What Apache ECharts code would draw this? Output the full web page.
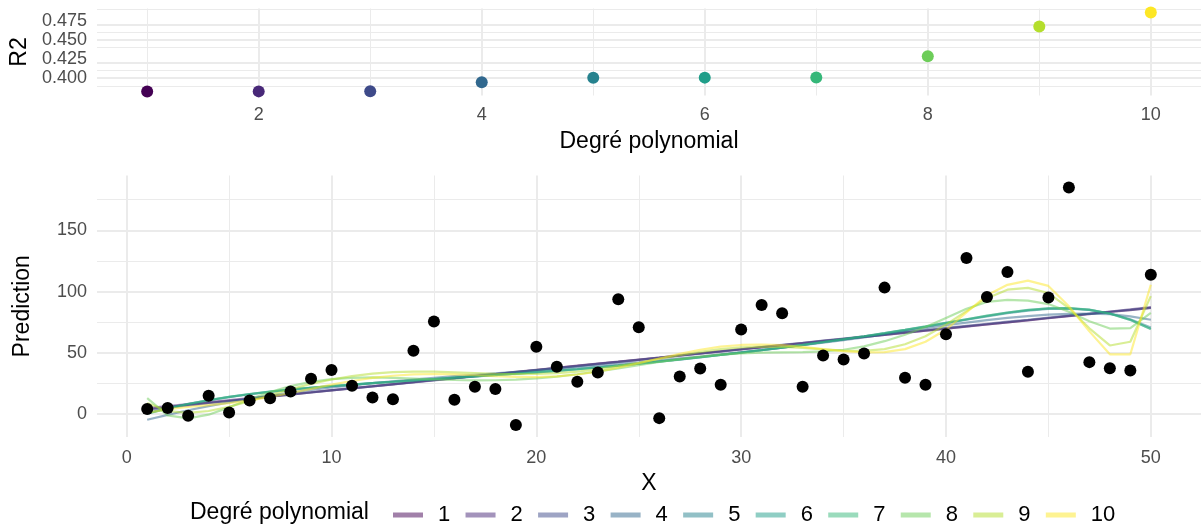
<!DOCTYPE html>
<html><head><meta charset="utf-8">
<script src="https://cdn.jsdelivr.net/npm/echarts@6/dist/echarts.min.js"></script>
<style>html,body{margin:0;padding:0;background:#fff}#c{width:1201px;height:526px}</style>
</head><body><div id="c"></div>
<script>
// ---------- data ----------
const degrees = [1, 2, 3, 4, 5, 6, 7, 8, 9, 10];
const r2 = [0.3825, 0.3827, 0.3830, 0.3948, 0.4005, 0.4007, 0.4008, 0.4287, 0.4677, 0.4860];

const xValues = [1,2,3,4,5,6,7,8,9,10,11,12,13,14,15,16,17,18,19,20,21,22,23,24,25,26,27,28,29,30,31,32,33,34,35,36,37,38,39,40,41,42,43,44,45,46,47,48,49,50];
const observed = [4.1,4.9,-1.4,14.9,1.3,11.1,13.0,18.4,28.8,35.9,23.1,13.5,12.2,51.6,75.5,11.7,22.3,20.4,-9.0,54.9,38.6,26.3,33.9,93.7,70.9,-3.3,30.7,37.2,23.9,69.0,89.1,82.3,22.3,47.8,44.5,49.4,103.2,29.6,23.9,65.2,127.4,95.6,116.0,34.5,95.1,185.0,42.4,37.5,35.5,113.8];

const pred1 = [4.1,5.8,7.5,9.2,10.9,12.5,14.2,15.9,17.6,19.3,21.0,22.6,24.3,26.0,27.7,29.4,31.1,32.7,34.4,36.1,37.8,39.5,41.2,42.8,44.5,46.2,47.9,49.6,51.3,52.9,54.6,56.3,58.0,59.7,61.4,63.0,64.7,66.4,68.1,69.8,71.5,73.2,74.8,76.5,78.2,79.9,81.6,83.3,84.9,86.6];
const pred2 = [4.9,6.5,8.2,9.8,11.4,13.0,14.6,16.3,17.9,19.6,21.2,22.8,24.5,26.1,27.8,29.4,31.1,32.7,34.3,36.0,37.7,39.3,41.0,42.6,44.3,45.9,47.6,49.3,51.0,52.7,54.4,56.1,57.8,59.5,61.2,62.9,64.6,66.3,68.0,69.7,71.4,73.1,74.9,76.6,78.4,80.1,81.9,83.7,85.5,87.3];
const pred3 = [3.2,5.2,7.1,8.9,10.7,12.5,14.2,15.9,17.6,19.3,20.9,22.6,24.2,25.9,27.5,29.2,30.8,32.5,34.1,35.8,37.5,39.2,40.9,42.6,44.3,46.0,47.8,49.5,51.2,53.0,54.7,56.5,58.2,60.0,61.7,63.4,65.2,66.9,68.6,70.3,72.0,73.7,75.4,77.0,78.7,80.3,81.9,83.5,85.0,86.6];
const pred4 = [-4.6,-0.6,3.1,6.5,9.6,12.5,15.1,17.5,19.7,21.7,23.5,25.2,26.8,28.2,29.6,30.9,32.1,33.3,34.5,35.7,36.9,38.2,39.5,40.9,42.3,43.8,45.4,47.0,48.7,50.5,52.3,54.2,56.2,58.2,60.3,62.5,65.1,67.8,70.2,72.5,74.7,76.7,78.5,80.0,81.1,81.8,82.0,81.5,79.8,77.0];
const pred5 = [0.8,4.8,8.3,11.3,13.9,16.2,18.2,19.9,21.4,22.8,24.0,25.2,26.3,27.4,28.5,29.6,30.7,31.8,32.9,34.1,35.3,36.6,38.0,39.5,41.1,42.8,44.5,46.3,48.2,50.1,52.1,54.2,56.4,58.6,60.9,63.3,65.8,68.5,71.3,74.1,77.0,79.8,82.4,84.5,85.8,86.1,85.0,82.1,77.4,70.6];
const pred6 = [0.5,4.6,8.2,11.3,14.0,16.3,18.3,20.0,21.5,22.9,24.1,25.3,26.4,27.5,28.6,29.7,30.8,31.9,33.0,34.2,35.4,36.7,38.1,39.6,41.2,42.9,44.6,46.4,48.3,50.2,52.2,54.3,56.5,58.7,61.0,63.4,66.0,68.7,71.5,74.4,77.3,80.2,82.8,84.9,86.2,86.4,85.1,82.0,76.8,69.5];
const pred7 = [0.3,4.5,8.2,11.4,14.1,16.4,18.4,20.1,21.6,22.9,24.1,25.3,26.4,27.5,28.6,29.7,30.7,31.8,32.9,34.1,35.3,36.6,38.0,39.5,41.1,42.8,44.6,46.4,48.3,50.2,52.2,54.3,56.5,58.8,61.1,63.5,66.1,68.8,71.6,74.5,77.4,80.3,82.9,85.0,86.3,86.5,85.2,82.1,76.9,69.4];
const pred8 = [13.0,-1.0,-3.5,-0.5,5.5,12.0,18.0,22.8,26.3,28.5,29.6,29.9,29.6,29.0,28.3,27.8,27.5,27.6,28.1,29.1,30.6,32.5,34.8,37.3,39.9,42.5,44.9,46.9,48.5,49.5,50.1,50.4,50.6,51.1,52.5,55.3,59.5,64.8,71.0,78.5,86.0,91.5,93.2,92.6,89.8,83.5,75.8,69.8,70.2,82.6];
const pred9 = [9.0,2.5,1.0,2.5,6.0,10.5,15.5,20.3,24.6,28.2,31.0,33.0,34.2,34.7,34.6,34.1,33.5,32.9,32.6,32.7,33.4,34.7,36.6,39.1,41.9,45.0,48.0,50.8,53.0,54.5,55.1,54.9,54.0,52.8,51.8,51.6,53.0,57.0,63.5,73.0,84.0,94.5,101.5,103.0,98.8,86.5,70.0,56.0,59.0,96.3];
const pred10 = [1.0,4.0,5.8,7.3,9.0,11.2,14.0,17.2,20.6,24.0,27.0,29.5,31.3,32.4,32.7,32.4,31.7,30.9,30.3,30.2,30.8,32.3,34.6,37.8,41.5,45.4,49.2,52.5,55.0,56.4,56.8,56.2,54.8,53.0,51.3,50.3,50.5,53.0,59.0,69.0,83.0,97.0,105.5,108.9,104.6,88.0,67.5,48.8,48.8,105.5];
const predictions = [pred1, pred2, pred3, pred4, pred5, pred6, pred7, pred8, pred9, pred10];

const viridis = ['#440154','#482878','#3E4A89','#31688E','#26828E','#1F9E89','#35B779','#6DCD59','#B4DE2C','#FDE725'];

// tick / grid values
const r2MajorY = [0.400, 0.425, 0.450, 0.475];
const r2MinorY = [0.3875, 0.4125, 0.4375, 0.4625, 0.4875];
const degMajorX = [2, 4, 6, 8, 10];
const degMinorX = [1, 3, 5, 7, 9];
const predMajorY = [0, 50, 100, 150];
const predMinorY = [25, 75, 125, 175];
const xMajor = [0, 10, 20, 30, 40, 50];
const xMinor = [5, 15, 25, 35, 45];

// ---------- helpers ----------
const FONT = "'Liberation Sans', Arial, Helvetica, sans-serif";
const GRID = '#EBEBEB';
function alpha(hex, a) {
  const n = parseInt(hex.slice(1), 16);
  return 'rgba(' + ((n >> 16) & 255) + ',' + ((n >> 8) & 255) + ',' + (n & 255) + ',' + a + ')';
}
function gridLines(majX, minX, majY, minY) {
  const d = [];
  minX.forEach(v => d.push({ xAxis: v, lineStyle: { color: GRID, width: 1, type: 'solid' } }));
  minY.forEach(v => d.push({ yAxis: v, lineStyle: { color: GRID, width: 1, type: 'solid' } }));
  majX.forEach(v => d.push({ xAxis: v, lineStyle: { color: GRID, width: 2, type: 'solid' } }));
  majY.forEach(v => d.push({ yAxis: v, lineStyle: { color: GRID, width: 2, type: 'solid' } }));
  return d;
}
const tickLabel = { color: '#4D4D4D', fontSize: 18, fontFamily: FONT };
const axisName = { color: '#000', fontSize: 23, fontFamily: FONT, verticalAlign: 'middle' };

const series = [];
// gridline carriers
series.push({
  type: 'line', xAxisIndex: 0, yAxisIndex: 0, data: [], silent: true,
  markLine: { silent: true, symbol: 'none', animation: false, label: { show: false },
    emphasis: { disabled: true }, data: gridLines(degMajorX, degMinorX, r2MajorY, r2MinorY) }
});
series.push({
  type: 'line', xAxisIndex: 1, yAxisIndex: 1, data: [], silent: true,
  markLine: { silent: true, symbol: 'none', animation: false, label: { show: false },
    emphasis: { disabled: true }, data: gridLines(xMajor, xMinor, predMajorY, predMinorY) }
});
// top: R2 per degree
series.push({
  type: 'scatter', xAxisIndex: 0, yAxisIndex: 0, z: 20, symbolSize: 12,
  data: degrees.map((d, i) => ({ value: [d, r2[i]], itemStyle: { color: viridis[i], opacity: 1 } }))
});
// bottom: prediction lines
predictions.forEach((p, k) => {
  series.push({
    name: String(degrees[k]), type: 'line', xAxisIndex: 1, yAxisIndex: 1, z: 10 + k,
    showSymbol: false, symbol: 'none', color: alpha(viridis[k], 0.5),
    lineStyle: { width: 2.2, color: alpha(viridis[k], 0.5) },
    data: xValues.map((x, i) => [x, p[i]])
  });
});
// bottom: observed points
series.push({
  type: 'scatter', xAxisIndex: 1, yAxisIndex: 1, z: 30, symbolSize: 12,
  itemStyle: { color: '#000', opacity: 1 },
  data: xValues.map((x, i) => [x, observed[i]])
});

const option = {
  animation: false,
  backgroundColor: '#fff',
  textStyle: { fontFamily: FONT },
  title: { text: 'Degré polynomial', left: 190, top: 499, padding: 0,
    textStyle: { fontSize: 23, fontWeight: 'normal', color: '#000', fontFamily: FONT, lineHeight: 28 } },
  legend: {
    data: degrees.map(String), left: 388, top: 498, orient: 'horizontal',
    itemWidth: 30, itemHeight: 5, itemGap: 15.3, icon: 'rect', selectedMode: false,
    textStyle: { fontSize: 22, color: '#000', fontFamily: FONT, padding: [0, 0, 0, 10], lineHeight: 24 }
  },
  grid: [
    { left: 97, top: 8.5, width: 1106.6, height: 87 },
    { left: 97, top: 175.5, width: 1106.6, height: 261.5 }
  ],
  xAxis: [
    { type: 'value', gridIndex: 0, min: 0.55, max: 10.45,
      axisLine: { show: false }, axisTick: { show: false }, splitLine: { show: false },
      axisLabel: Object.assign({ margin: 10.5, customValues: degMajorX }, tickLabel),
      name: 'Degré polynomial', nameLocation: 'middle', nameGap: 46.5, nameTextStyle: axisName },
    { type: 'value', gridIndex: 1, min: -1.45, max: 52.45,
      axisLine: { show: false }, axisTick: { show: false }, splitLine: { show: false },
      axisLabel: Object.assign({ margin: 12, customValues: xMajor }, tickLabel),
      name: 'X', nameLocation: 'middle', nameGap: 47, nameTextStyle: axisName }
  ],
  yAxis: [
    { type: 'value', gridIndex: 0, min: 0.3773, max: 0.4912,
      axisLine: { show: false }, axisTick: { show: false }, splitLine: { show: false },
      axisLabel: Object.assign({ margin: 10, customValues: r2MajorY, formatter: v => v.toFixed(3) }, tickLabel),
      name: 'R2', nameLocation: 'middle', nameGap: 74, nameRotate: 90, nameTextStyle: axisName },
    { type: 'value', gridIndex: 1, min: -18.7, max: 194.7,
      axisLine: { show: false }, axisTick: { show: false }, splitLine: { show: false },
      axisLabel: Object.assign({ margin: 10, customValues: predMajorY }, tickLabel),
      name: 'Prediction', nameLocation: 'middle', nameGap: 74, nameRotate: 90, nameTextStyle: axisName }
  ],
  series: series
};
const chart = echarts.init(document.getElementById('c'), null, { renderer: 'canvas' });
chart.setOption(option);
</script></body></html>
